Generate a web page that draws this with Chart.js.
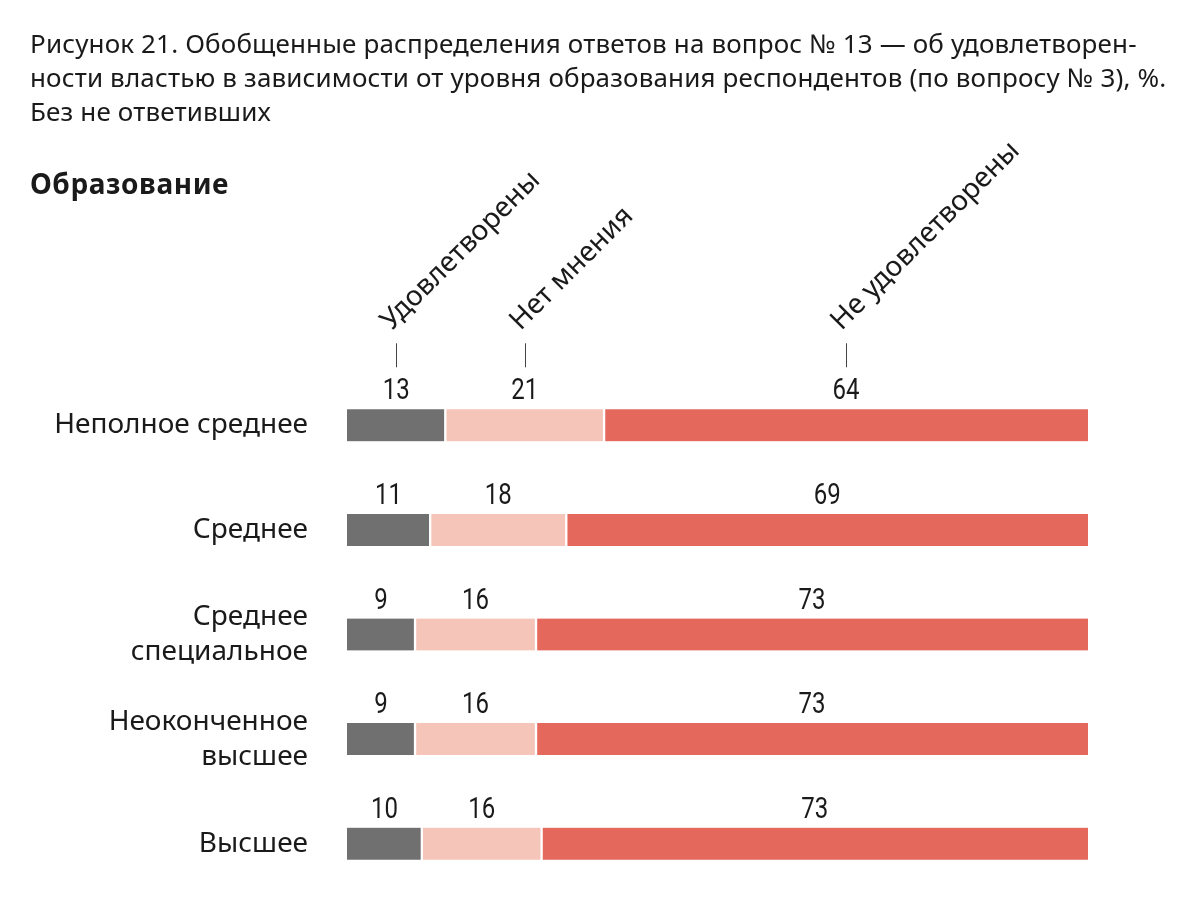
<!DOCTYPE html>
<html lang="ru">
<head>
<meta charset="utf-8">
<title>Рисунок 21</title>
<script src="https://cdn.jsdelivr.net/npm/chart.js@4/dist/chart.umd.min.js"></script>
<style>
  html, body { margin: 0; padding: 0; background: #fff; }
  #wrap { position: relative; width: 1200px; height: 909px; overflow: hidden; }
  #chartBox { position: absolute; left: 0; top: 0; width: 1200px; height: 909px; }
  .title {
    position: absolute; left: 30px; top: 26px; width: 1160px;
    font-family: 'Noto Sans', sans-serif; font-size: 26px; line-height: 34px;
    letter-spacing: 0.15px;
    color: #1a1a1a; white-space: nowrap;
  }
  .section {
    position: absolute; left: 30px; top: 164px;
    font-family: 'Noto Sans', sans-serif; font-size: 28px; font-weight: bold;
    letter-spacing: 0.6px;
    color: #1a1a1a;
  }
</style>
</head>
<body>
<div id="wrap">
  <div id="chartBox"><canvas id="eduChart"></canvas></div>
  <div class="title">Рисунок 21. Обобщенные распределения ответов на вопрос № 13 — об удовлетворен-<br>ности властью в зависимости от уровня образования респондентов (по вопросу № 3), %.<br>Без не ответивших</div>
  <div class="section">Образование</div>
</div>
<script>
// data
const categories = [
  'Неполное среднее',
  'Среднее',
  ['Среднее', 'специальное'],
  ['Неоконченное', 'высшее'],
  'Высшее'
];
const seriesNames = ['Удовлетворены', 'Нет мнения', 'Не удовлетворены'];
const satisfied = [13, 11, 9, 9, 10];
const noOpinion = [21, 18, 16, 16, 16];
const notSatisfied = [64, 69, 73, 73, 73];
const colors = ['#707070', '#f4c5b8', '#e4695c'];

document.addEventListener('DOMContentLoaded', function() {
  const series = [satisfied, noOpinion, notSatisfied];
  // bars fill the full row, so each row is scaled to its own total
  const rowTotals = categories.map((c, i) => series.reduce((s, arr) => s + arr[i], 0));
  const shares = series.map(arr => arr.map((v, i) => v / rowTotals[i] * 100));

  const borders = [
    { top: 0, bottom: 0, left: 0, right: 1.5 },
    { top: 0, bottom: 0, left: 1.5, right: 1.5 },
    { top: 0, bottom: 0, left: 1.5, right: 0 }
  ];

  const datasets = series.map((arr, k) => ({
    label: seriesNames[k],
    data: shares[k],
    raw: arr,
    backgroundColor: colors[k],
    borderColor: '#ffffff',
    borderWidth: borders[k],
    borderSkipped: false,
    barThickness: 32
  }));

  const numFont = "30px 'Roboto', sans-serif";
  const headFont = "28px 'Noto Sans', sans-serif";

  // values above each segment, rotated headers over the first row
  const labelsPlugin = {
    id: 'segLabels',
    afterDatasetsDraw(chart) {
      const c = chart.ctx;
      c.save();
      c.fillStyle = '#1a1a1a';
      chart.data.datasets.forEach((ds, k) => {
        const meta = chart.getDatasetMeta(k);
        meta.data.forEach((bar, i) => {
          const cx = (bar.x + bar.base) / 2;
          const top = bar.y - bar.height / 2;
          // narrow digits, as in the original
          c.save();
          c.translate(cx, top - 10);
          c.scale(0.8, 1);
          c.font = numFont;
          c.textAlign = 'center';
          c.textBaseline = 'alphabetic';
          c.fillText(String(ds.raw[i]), 0, 0);
          c.restore();
        });
      });

      // headers
      chart.data.datasets.forEach((ds, k) => {
        const bar = chart.getDatasetMeta(k).data[0];
        const cx = Math.round((bar.x + bar.base) / 2) + 0.5;
        const top = bar.y - bar.height / 2;
        c.strokeStyle = '#444';
        c.lineWidth = 1;
        c.beginPath();
        c.moveTo(cx, top - 66);
        c.lineTo(cx, top - 42);
        c.stroke();

        c.save();
        c.translate(cx - 5, top - 78);
        c.rotate(-Math.PI / 4);
        c.font = headFont;
        c.textAlign = 'left';
        c.fillText(ds.label, 0, 0);
        c.restore();
      });
      c.restore();
    }
  };

  const ctx = document.getElementById('eduChart').getContext('2d');
  new Chart(ctx, {
    type: 'bar',
    data: { labels: categories, datasets: datasets },
    options: {
      indexAxis: 'y',
      responsive: true,
      maintainAspectRatio: false,
      animation: false,
      layout: { padding: { top: 373, bottom: 13, left: 0, right: 112 } },
      plugins: {
        legend: { display: false },
        tooltip: { enabled: false }
      },
      scales: {
        x: {
          stacked: true,
          min: 0,
          max: 100,
          display: false
        },
        y: {
          stacked: true,
          grid: { display: false },
          border: { display: false },
          ticks: {
            color: '#1a1a1a',
            padding: 31,
            font: { family: "'Noto Sans', sans-serif", size: 28, lineHeight: 1.25 }
          },
          afterFit(scale) {
            scale.width = 347;
            scale.paddingTop = 0;
            scale.paddingBottom = 0;
          }
        }
      }
    },
    plugins: [labelsPlugin]
  });
});
</script>
</body>
</html>
